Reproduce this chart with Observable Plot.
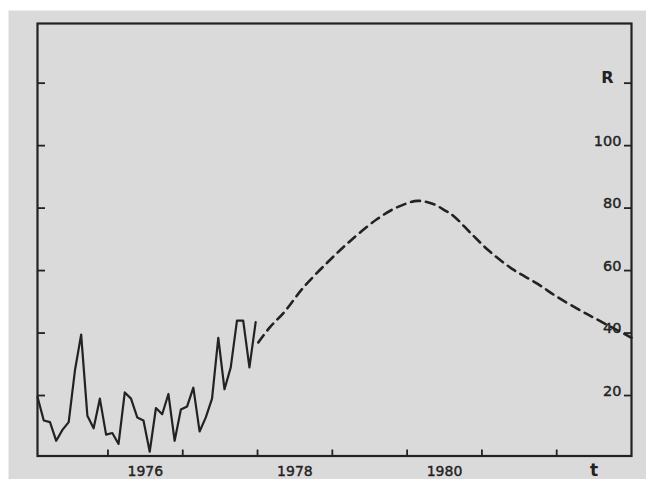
<!DOCTYPE html>
<html><head><meta charset="utf-8">
<script src="https://cdn.jsdelivr.net/npm/d3@7"></script>
<script src="https://cdn.jsdelivr.net/npm/@observablehq/plot@0.6"></script>
<style>
html,body{margin:0;padding:0;background:#fff;}
#chart svg{display:block;}
</style></head><body><div id="chart"></div>
<script>
const obsStartYear = 1975;
const observedR = [19.5, 12, 11.5, 5.5, 9, 11.5, 28, 39.5, 13.5, 9.5, 19, 7.5,
                   8, 4.5, 21, 19, 13, 12, 2, 16, 14, 20.5, 5.5, 15.5,
                   16.5, 22.5, 8.5, 13, 19, 38.5, 22, 29, 44, 44, 29, 43.5];
// Predicted curve (dashed)
const predictionYears = [1978.01, 1978.17, 1978.35, 1978.61, 1978.93, 1979.24, 1979.60, 1979.87,
                         1980.14, 1980.35, 1980.51, 1980.62, 1980.85, 1981.11, 1981.42, 1981.74,
                         1982.01, 1982.32, 1982.52, 1983.0];
const predictionR = [37, 42, 46.5, 54.5, 62.5, 69.5, 76.5, 80.3,
                     82.3, 81.3, 79.2, 77.5, 72, 66, 60.3, 55.8,
                     51.5, 47.2, 44.6, 38.5];
// Axes
const xTicks = [1976, 1977, 1978, 1979, 1980, 1981, 1982];
const xLabelYears = [1976, 1978, 1980];
const xLabels = ["1976", "1978", "1980"];
const xTitle = "t";
const xTitleAt = 1982.5;
const yTicksAll = [20, 40, 60, 80, 100, 120];
const yTicks = [20, 40, 60, 80, 100];
const yTickLabels = ["20", "40", "60", "80", "100"];
const yTitle = "R";
const yTitleAt = 120;

const observed = observedR.map((r, i) => ({t: obsStartYear + (i + 0.7) / 12, r}));
const predicted = predictionYears.map((t, i) => ({t, r: predictionR[i]}));
const ink = "#222222";

const chart = Plot.plot({
  width: 646, height: 479,
  marginTop: 23, marginBottom: 23.5, marginLeft: 37, marginRight: 15,
  style: {background: "transparent", fontFamily: "DejaVu Sans", color: ink, overflow: "visible"},
  x: {domain: [1975.058, 1983], axis: null, label: null},
  y: {domain: [0.64, 139.1], axis: null, label: null},
  marks: [
    Plot.frame({fill: "#dadada", stroke: "none", insetLeft: -29, insetTop: -13, insetRight: -15, insetBottom: -23.5}),
    Plot.axisX({ticks: xTicks, anchor: "bottom", tickSize: -6, tickFormat: () => "", label: null, stroke: ink, strokeWidth: 1.8}),
    Plot.axisY({ticks: yTicksAll, anchor: "left", tickSize: -8, tickFormat: () => "", label: null, stroke: ink, strokeWidth: 1.8}),
    Plot.axisY({ticks: yTicksAll, anchor: "right", tickSize: -8, tickFormat: () => "", label: null, stroke: ink, strokeWidth: 1.8}),
    Plot.frame({stroke: ink, strokeWidth: 2.2}),
    Plot.line(observed, {x: "t", y: "r", stroke: ink, strokeWidth: 2.2}),
    Plot.line(predicted, {x: "t", y: "r", stroke: ink, strokeWidth: 2.6, strokeDasharray: "9 6", curve: "catmull-rom"}),
    Plot.text(yTicks, {y: d => d, text: (d, i) => yTickLabels[i], frameAnchor: "right", dx: -10, textAnchor: "end", lineAnchor: "bottom", fontSize: 14.5, fill: ink, stroke: ink, strokeWidth: 0.4}),
    Plot.text([yTitleAt], {y: d => d, text: () => yTitle, frameAnchor: "right", dx: -18, textAnchor: "end", lineAnchor: "bottom", fontSize: 16, fontWeight: "bold", fill: ink}),
    Plot.text(xLabelYears, {x: d => d + 0.5, text: (d, i) => xLabels[i], frameAnchor: "bottom", dy: 19.5, lineAnchor: "bottom", fontSize: 14, fill: ink, stroke: ink, strokeWidth: 0.4}),
    Plot.text([xTitleAt], {x: d => d, text: () => xTitle, frameAnchor: "bottom", dy: 20, lineAnchor: "bottom", fontSize: 17, fontWeight: "bold", fill: ink})
  ]
});
document.getElementById("chart").appendChild(chart);
</script>
</body></html>
